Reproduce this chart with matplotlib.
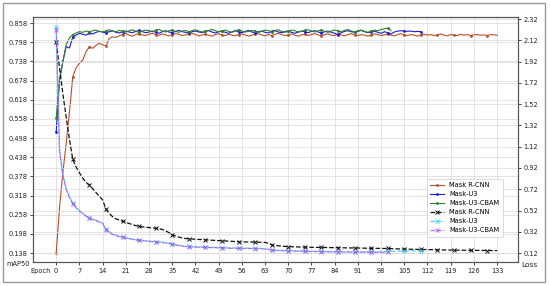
import matplotlib
matplotlib.use("Agg")
import matplotlib.pyplot as plt
from matplotlib.patches import Rectangle
import numpy as np

# ---------------- data ----------------
rcnn_map = [0.138, 0.280, 0.390, 0.480, 0.580, 0.690, 0.718, 0.732, 0.742, 0.768,
            0.784, 0.779, 0.788, 0.795, 0.790, 0.786, 0.810, 0.815, 0.813, 0.818,
            0.822, 0.826, 0.820, 0.817, 0.822, 0.825, 0.821, 0.819, 0.823, 0.826,
            0.822, 0.820, 0.824, 0.821, 0.818, 0.822, 0.825, 0.823, 0.819, 0.821,
            0.824, 0.826, 0.822, 0.818, 0.821, 0.823, 0.820, 0.817, 0.822, 0.825,
            0.821, 0.819, 0.823, 0.820, 0.818, 0.822, 0.824, 0.821, 0.817, 0.820,
            0.823, 0.825, 0.821, 0.818, 0.822, 0.819, 0.823, 0.826, 0.822, 0.819,
            0.821, 0.824, 0.820, 0.817, 0.821, 0.823, 0.819, 0.822, 0.825, 0.821,
            0.818, 0.822, 0.824, 0.820, 0.819, 0.823, 0.821, 0.818, 0.822, 0.825,
            0.821, 0.819, 0.822, 0.820, 0.817, 0.821, 0.824, 0.822, 0.819, 0.821,
            0.823, 0.820, 0.818, 0.822, 0.825, 0.821, 0.819, 0.822, 0.820, 0.817,
            0.821, 0.823, 0.820, 0.822, 0.819, 0.821, 0.824, 0.820, 0.818, 0.822,
            0.821, 0.819, 0.823, 0.820, 0.822, 0.819, 0.821, 0.822, 0.820, 0.821,
            0.819, 0.822, 0.821, 0.820]

u3_map = [0.517, 0.680, 0.737, 0.784, 0.780, 0.815, 0.820, 0.826, 0.823, 0.820,
          0.828, 0.824, 0.829, 0.832, 0.830, 0.827, 0.831, 0.834, 0.829, 0.827,
          0.831, 0.833, 0.830, 0.828, 0.832, 0.835, 0.831, 0.828, 0.830, 0.833,
          0.829, 0.826, 0.831, 0.834, 0.830, 0.828, 0.832, 0.835, 0.831, 0.829,
          0.827, 0.831, 0.833, 0.830, 0.828, 0.832, 0.834, 0.830, 0.827, 0.831,
          0.833, 0.829, 0.826, 0.830, 0.834, 0.831, 0.828, 0.832, 0.835, 0.830,
          0.828, 0.831, 0.833, 0.829, 0.827, 0.832, 0.834, 0.830, 0.828, 0.831,
          0.833, 0.829, 0.826, 0.830, 0.833, 0.831, 0.828, 0.832, 0.834, 0.830,
          0.827, 0.831, 0.833, 0.829, 0.826, 0.822, 0.828, 0.832, 0.834, 0.831,
          0.829, 0.832, 0.835, 0.831, 0.828, 0.830, 0.833, 0.829, 0.826, 0.831,
          0.827, 0.824, 0.830, 0.833, 0.834, 0.833, 0.832, 0.833, 0.831, 0.832,
          0.831]

cbam_map = [0.560, 0.680, 0.737, 0.790, 0.812, 0.822, 0.827, 0.831, 0.829, 0.833,
            0.831, 0.834, 0.836, 0.832, 0.830, 0.834, 0.837, 0.833, 0.831, 0.835,
            0.833, 0.830, 0.834, 0.837, 0.832, 0.829, 0.833, 0.836, 0.834, 0.831,
            0.835, 0.838, 0.833, 0.830, 0.834, 0.836, 0.832, 0.829, 0.833, 0.835,
            0.831, 0.834, 0.837, 0.833, 0.830, 0.832, 0.835, 0.838, 0.834, 0.831,
            0.833, 0.836, 0.832, 0.829, 0.834, 0.837, 0.833, 0.830, 0.832, 0.835,
            0.833, 0.829, 0.832, 0.836, 0.834, 0.831, 0.835, 0.837, 0.832, 0.829,
            0.833, 0.836, 0.834, 0.830, 0.832, 0.835, 0.837, 0.833, 0.830, 0.834,
            0.836, 0.832, 0.829, 0.833, 0.836, 0.834, 0.831, 0.835, 0.838, 0.833,
            0.830, 0.834, 0.836, 0.832, 0.829, 0.833, 0.836, 0.834, 0.838, 0.840,
            0.842, 0.834]

rcnn_loss = [2.107, 1.860, 1.620, 1.400, 1.190, 1.000, 0.930, 0.875, 0.825, 0.785,
             0.760, 0.725, 0.690, 0.655, 0.620, 0.535, 0.492, 0.463, 0.442, 0.430,
             0.420, 0.408, 0.398, 0.388, 0.378, 0.370, 0.366, 0.363, 0.360, 0.357,
             0.355, 0.350, 0.342, 0.330, 0.312, 0.292, 0.280, 0.270, 0.262, 0.257,
             0.254, 0.252, 0.250, 0.248, 0.246, 0.245, 0.243, 0.241, 0.239, 0.237,
             0.236, 0.234, 0.232, 0.230, 0.228, 0.226, 0.225, 0.225, 0.224, 0.224,
             0.223, 0.222, 0.221, 0.220, 0.212, 0.198, 0.192, 0.188, 0.185, 0.182,
             0.180, 0.179, 0.178, 0.177, 0.176, 0.175, 0.175, 0.174, 0.174, 0.173,
             0.173, 0.172, 0.172, 0.171, 0.171, 0.170, 0.170, 0.169, 0.169, 0.168,
             0.168, 0.167, 0.167, 0.166, 0.166, 0.165, 0.165, 0.164, 0.164, 0.163,
             0.163, 0.162, 0.161, 0.160, 0.159, 0.158, 0.157, 0.156, 0.155, 0.155,
             0.154, 0.153, 0.152, 0.151, 0.151, 0.150, 0.150, 0.149, 0.149, 0.148,
             0.148, 0.147, 0.147, 0.146, 0.146, 0.146, 0.145, 0.145, 0.145, 0.144,
             0.144, 0.144, 0.143, 0.143]

u3_loss = [2.250, 1.100, 0.860, 0.730, 0.650, 0.590, 0.550, 0.520, 0.494, 0.470,
           0.450, 0.440, 0.428, 0.415, 0.402, 0.345, 0.318, 0.300, 0.288, 0.278,
           0.270, 0.264, 0.258, 0.252, 0.246, 0.242, 0.239, 0.236, 0.233, 0.230,
           0.228, 0.225, 0.222, 0.217, 0.212, 0.207, 0.200, 0.193, 0.188, 0.184,
           0.182, 0.180, 0.179, 0.178, 0.177, 0.176, 0.175, 0.174, 0.173, 0.172,
           0.171, 0.170, 0.169, 0.168, 0.168, 0.167, 0.167, 0.166, 0.166, 0.165,
           0.165, 0.164, 0.163, 0.161, 0.156, 0.151, 0.148, 0.146, 0.145, 0.144,
           0.143, 0.142, 0.141, 0.140, 0.139, 0.138, 0.137, 0.137, 0.136, 0.136,
           0.135, 0.135, 0.134, 0.134, 0.133, 0.133, 0.133, 0.132, 0.132, 0.132,
           0.131, 0.131, 0.131, 0.131, 0.130, 0.130, 0.131, 0.132, 0.133, 0.134,
           0.135, 0.136, 0.137, 0.138, 0.139, 0.140, 0.140, 0.141, 0.141, 0.141,
           0.141]

cbam_loss = [2.220, 1.080, 0.850, 0.720, 0.640, 0.585, 0.546, 0.516, 0.490, 0.467,
             0.447, 0.436, 0.424, 0.411, 0.398, 0.340, 0.314, 0.296, 0.284, 0.275,
             0.267, 0.261, 0.255, 0.249, 0.243, 0.239, 0.236, 0.233, 0.230, 0.227,
             0.225, 0.222, 0.219, 0.214, 0.209, 0.204, 0.197, 0.190, 0.185, 0.181,
             0.179, 0.177, 0.176, 0.175, 0.174, 0.173, 0.172, 0.171, 0.170, 0.169,
             0.168, 0.167, 0.166, 0.165, 0.165, 0.164, 0.164, 0.163, 0.163, 0.162,
             0.162, 0.161, 0.160, 0.158, 0.153, 0.148, 0.145, 0.143, 0.142, 0.141,
             0.140, 0.139, 0.138, 0.137, 0.137, 0.136, 0.135, 0.135, 0.134, 0.134,
             0.133, 0.133, 0.132, 0.132, 0.131, 0.131, 0.130, 0.130, 0.130, 0.129,
             0.129, 0.129, 0.128, 0.128, 0.128, 0.128, 0.127, 0.127, 0.127, 0.127,
             0.127]

x_ticks = [0, 7, 14, 21, 28, 35, 42, 49, 56, 63, 70, 77, 84, 91, 98, 105, 112, 119, 126, 133]
map_ticks = [0.138, 0.198, 0.258, 0.318, 0.378, 0.438, 0.498, 0.558, 0.618, 0.678, 0.738, 0.798, 0.858]
loss_ticks = [0.12, 0.32, 0.52, 0.72, 0.92, 1.12, 1.32, 1.52, 1.72, 1.92, 2.12, 2.32]
labels = ["Mask R-CNN", "Mask-U3", "Mask-U3-CBAM"]

# ---------------- figure ----------------
FS = 4.8
fig = plt.figure(figsize=(5.5, 2.86), dpi=100)
fig.patches.append(Rectangle((3 / 550, 4 / 286), 542 / 550, 279 / 286, transform=fig.transFigure,
                             fill=False, edgecolor="#9a9a9a", linewidth=1.0))
ax = fig.add_axes([33 / 550, 24 / 286, 485 / 550, 245 / 286])
ax2 = ax.twinx()

c_rcnn, c_u3, c_cbam = "#b5502a", "#1c1cd6", "#2f7f2f"
c_l_rcnn, c_l_u3, c_l_cbam = "#111111", "#38c8f0", "#a848f0"

h = []
for vals, col, lab in [(rcnn_map, c_rcnn, labels[0]), (u3_map, c_u3, labels[1]), (cbam_map, c_cbam, labels[2])]:
    ep = np.arange(len(vals))
    ln, = ax.plot(ep, vals, color=col, lw=0.8, marker='.', ms=2.0, markevery=5, label=lab)
    h.append(ln)

for vals, col, lab, al in [(rcnn_loss, c_l_rcnn, labels[0], 1.0), (u3_loss, c_l_u3, labels[1], 0.85),
                           (cbam_loss, c_l_cbam, labels[2], 0.75)]:
    ep = np.arange(len(vals))
    ln, = ax2.plot(ep, vals, color=col, lw=0.9, ls='--', marker='x', ms=2.8, mew=0.7,
                   markevery=5, label=lab, alpha=al)
    h.append(ln)

ax.set_xlim(-7, 139.3)
ax.set_ylim(0.110, 0.877)
ax2.set_ylim(0.036, 2.34)
ax.set_xticks(x_ticks)
ax.set_yticks(map_ticks)
ax.set_yticklabels([f"{v:.3f}" for v in map_ticks])
ax2.set_yticks(loss_ticks)
ax2.set_yticklabels([f"{v:.2f}" for v in loss_ticks])

for a in (ax, ax2):
    a.tick_params(labelsize=FS, length=2.5, width=0.6, pad=1.5, colors="#222222")
    for s in a.spines.values():
        s.set_color("#555555")
        s.set_linewidth(0.8)
ax.grid(True, color="#dedede", lw=0.6)
ax2.grid(True, axis='y', color="#dedede", lw=0.6)
ax.set_axisbelow(True)
ax2.set_axisbelow(True)

fig.text(30 / 550, 1 - 264 / 286, "mAP50", fontsize=FS, ha='right', va='center', color="#222222")
fig.text(51 / 550, 1 - 271 / 286, "Epoch", fontsize=FS, ha='right', va='center', color="#222222")
fig.text(521 / 550, 1 - 265 / 286, "Loss", fontsize=FS + 0.6, ha='left', va='center', color="#222222")

leg = ax2.legend(handles=h, loc='lower right', bbox_to_anchor=(0.975, 0.09), fontsize=FS,
                 frameon=True, fancybox=True, edgecolor="#cccccc", handlelength=2.0,
                 borderpad=0.5, labelspacing=0.45, handletextpad=0.8)
leg.get_frame().set_linewidth(0.6)

fig.savefig("out.png", dpi=100)
